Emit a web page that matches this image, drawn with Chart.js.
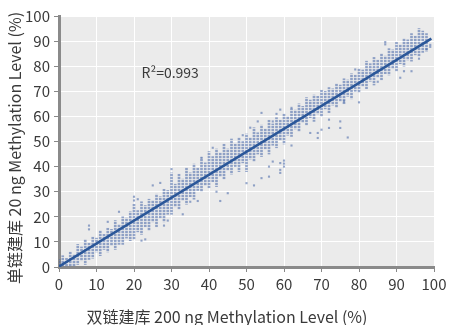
<!DOCTYPE html>
<html>
<head>
<meta charset="utf-8">
<script src="https://cdn.jsdelivr.net/npm/chart.js@4/dist/chart.umd.min.js"></script>
<style>
html,body{margin:0;padding:0;background:#fff;}
canvas{display:block;}
</style>
</head>
<body>
<canvas id="c" width="450" height="325"></canvas>
<script>
// ---- data ----
const xTitle = '双链建库 200 ng Methylation Level (%)';
const yTitle = '单链建库 20 ng Methylation Level (%)';
const r2Label = 'R²=0.993';
const r2Pos = [22, 77.5];

// vertical columns of dense points: x position, lowest y, highest y
const colX  = [0,1,2,3,4,5,6,7,8,9,10,11,12,13,14,15,16,17,18,19,20,21,22,23,24,25,26,27,28,29,30,31,32,33,34,35,36,37,38,39,40,41,42,43,44,45,46,47,48,49,50,51,52,53,54,55,56,57,58,59,60,61,62,63,64,65,66,67,68,69,70,71,72,73,74,75,76,77,78,79,80,81,82,83,84,85,86,87,88,89,90,91,92,93,94,95,96,97,98];
const colLo = [0,0,0,0,0.5,1,2.5,1,3,3.5,6,4.5,7,6,8.5,7,9,9,11.5,10.5,11,14,13,16,14.5,18,16,19.5,18,21,21,24,23,26.5,25,28,27,30.5,30,32.5,31.5,34,32,36,35,38.5,37,40,38,41.5,38,43,42,45,44,47,45,48.5,47.5,50.5,49,52.5,52,55,54,57.5,56.5,59.5,58,61,60,63,61.5,64.5,63.5,66,65,68,67,70,69.5,72,71,74,72.5,75.5,74.5,77,76.5,79,78,81,80,82.5,82,84.5,84,85.5,86];
const colHi = [3,4.5,3.5,6,5,9,8,11,9.5,12,11.5,14.5,13,15.5,15,18.5,17,20,19.5,22,25,22.5,26,24.5,27,26.5,29,28,31,30.5,37.5,33,37,35,39.5,37.5,41,39.5,43.5,41.5,46,44,47,45.5,49,47,51,49,51.5,50,53,51.5,55.5,53.5,56.5,55,58.5,57,59.5,58.5,61,60,63,62.5,65,64,67.5,66.5,68.5,68,70.5,70,71.5,71,73,72.5,75,74.5,77,76.5,79,78.5,82,81,83.5,82.5,85,84,87,86.5,89.5,88.5,91,90.5,93,92,95,94,93];

// isolated points away from the columns
const outX = [8,8,13,16,20,20,21,22,23,25,27,28,29,30,33,35,37,38,41,42,43,45,49,50,51,52,53,54,54,56,56,57,57,58,59,59,59,59,60,60,60,62,62,67,69,69,70,72,72,75,75,77,76,79,80,85,87,87,91,92,94,96,98,99,99];
const outY = [15,16.5,18,22,26.5,28,27,10.5,11,32.5,33.5,16.5,18.5,39,21,26,26.3,43.5,47.5,30,26.3,29.4,52.5,33.4,55.5,32.5,58,61.4,35.4,36,40,58,42,61,41.4,37.5,38.7,62.7,40,41.2,42.4,48.4,63.4,53.4,53.4,51.4,54.7,58.7,55.4,58,55.4,51.6,66,78.7,65.6,73.8,88.7,89.6,75.4,78,78,83,86.7,87.7,88.5];

// fitted line end points
const fitX = [0, 99.3];
const fitY = [0.2, 91];

const tickValues = [0,10,20,30,40,50,60,70,80,90,100];

// ---- drawing ----
const canvas = document.getElementById('c');
const ctx = canvas.getContext('2d');

const pc = document.createElement('canvas');
pc.width = 4; pc.height = 3;
const pctx = pc.getContext('2d');
pctx.fillStyle = 'rgba(66,98,165,0.55)';
pctx.fillRect(0, 0, 4, 2);
pctx.fillStyle = 'rgba(66,98,165,0.12)';
pctx.fillRect(0, 2, 4, 1);
const dotPattern = ctx.createPattern(pc, 'repeat');

const FONT = "'Noto Sans CJK SC', 'Noto Sans', sans-serif";
const TXT = '#3a3a3a';

const bgPlugin = {
  id: 'bg',
  beforeDraw(chart) {
    const a = chart.chartArea, c = chart.ctx;
    c.save();
    c.fillStyle = '#ebebeb';
    c.fillRect(a.left, a.top, a.right - a.left, a.bottom - a.top);
    c.restore();
  },
  afterDraw(chart) {
    const c = chart.ctx, xs = chart.scales.x, ys = chart.scales.y;
    c.save();
    c.fillStyle = TXT;
    c.font = "14px " + FONT;
    c.textAlign = 'left';
    c.textBaseline = 'middle';
    c.fillText(r2Label, xs.getPixelForValue(r2Pos[0]), ys.getPixelForValue(r2Pos[1]));
    c.font = "16px " + FONT;
    c.textAlign = 'center';
    c.fillText(xTitle, 227, 317);
    c.translate(15, 148);
    c.rotate(-Math.PI / 2);
    c.fillText(yTitle, 0, 0);
    c.restore();
  }
};

new Chart(ctx, {
  type: 'bar',
  data: {
    datasets: [
      {
        type: 'line',
        data: fitX.map((x, i) => ({x: x, y: fitY[i]})),
        borderColor: '#2b5799',
        borderWidth: 2.6,
        pointRadius: 0,
        order: 0
      },
      {
        type: 'scatter',
        data: outX.map((x, i) => ({x: x, y: outY[i]})),
        pointStyle: 'rect',
        radius: 1.5,
        backgroundColor: 'rgba(66,98,165,0.55)',
        borderWidth: 0,
        order: 1
      },
      {
        type: 'bar',
        data: colX.map((x, i) => ({x: x, y: [colLo[i], colHi[i]]})),
        backgroundColor: dotPattern,
        borderWidth: 0,
        barThickness: 2,
        grouped: false,
        order: 2
      }
    ]
  },
  options: {
    responsive: false,
    animation: false,
    devicePixelRatio: 1,
    layout: { padding: { left: 0, right: 16, top: 16, bottom: 0 } },
    plugins: { legend: { display: false }, tooltip: { enabled: false } },
    scales: {
      x: {
        type: 'linear',
        min: 0, max: 100,
        offset: false,
        afterBuildTicks: s => { s.ticks = tickValues.map(v => ({value: v})); },
        afterFit: s => { s.height = 58; },
        grid: { color: '#ffffff', lineWidth: 1, tickColor: '#888888', tickLength: 5, offset: false },
        border: { color: '#8a8a8a', width: 3 },
        ticks: { color: TXT, font: { family: FONT, size: 15 }, padding: 3, maxRotation: 0 },
        title: { display: false }
      },
      y: {
        type: 'linear',
        min: 0, max: 100,
        afterBuildTicks: s => { s.ticks = tickValues.map(v => ({value: v})); },
        afterFit: s => { s.width = 59; },
        grid: { color: '#ffffff', lineWidth: 1, tickColor: '#888888', tickLength: 5 },
        border: { color: '#8a8a8a', width: 3 },
        ticks: { color: TXT, font: { family: FONT, size: 15 }, padding: 4 },
        title: { display: false }
      }
    }
  },
  plugins: [bgPlugin]
});
</script>
</body>
</html>
